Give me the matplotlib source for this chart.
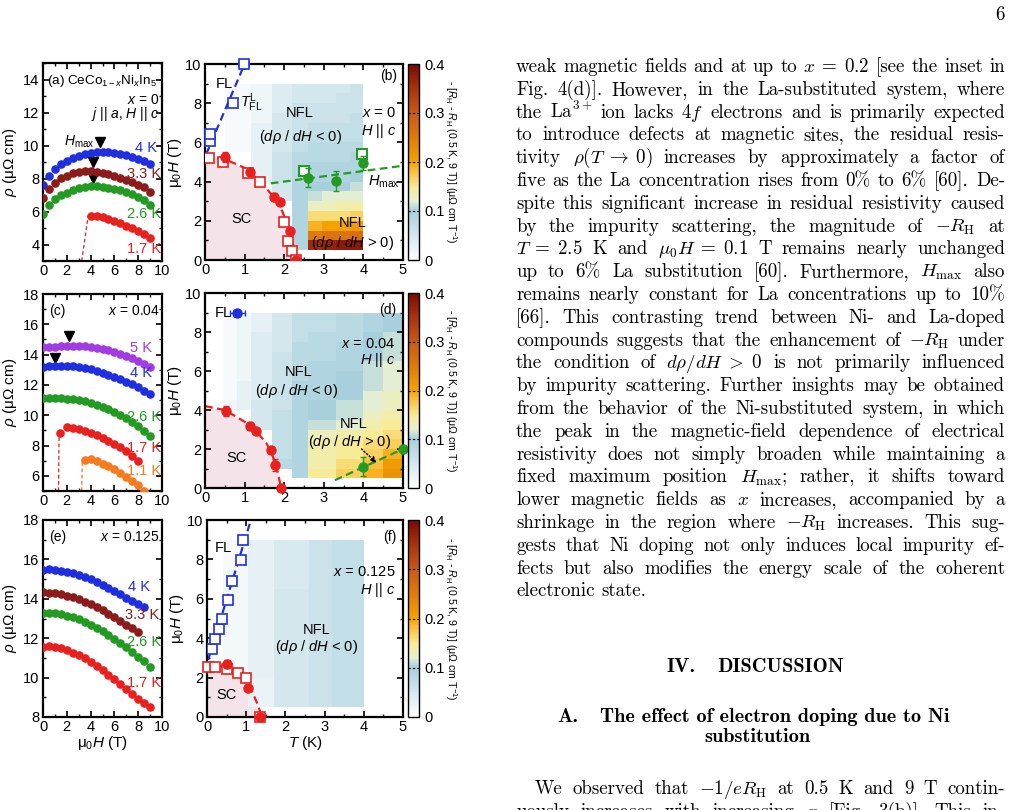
import numpy as np
import matplotlib.pyplot as plt
from matplotlib.colors import LinearSegmentedColormap
from matplotlib.ticker import MultipleLocator

plt.rcParams['font.family'] = ['Liberation Sans', 'DejaVu Sans']
plt.rcParams['mathtext.fontset'] = 'custom'
plt.rcParams['mathtext.rm'] = 'Liberation Sans'
plt.rcParams['mathtext.it'] = 'Liberation Sans:italic'
plt.rcParams['mathtext.bf'] = 'Liberation Sans:bold'
plt.rcParams['axes.linewidth'] = 1.6

# ---------------- resistivity vs field ----------------
field = [0, 0.5, 1, 1.5, 2, 2.5, 3, 3.5, 4, 4.5, 5, 5.5, 6, 6.5, 7, 7.5, 8, 8.5, 9]

# (a) x = 0
rho_a_4K = [7.62, 8.17, 8.56, 8.86, 9.06, 9.22, 9.36, 9.47, 9.53, 9.59, 9.6, 9.6, 9.57, 9.49, 9.41, 9.29, 9.17, 9.05, 8.88]
rho_a_33K = [6.84, 7.35, 7.75, 8.01, 8.17, 8.31, 8.39, 8.43, 8.43, 8.39, 8.31, 8.25, 8.15, 8.03, 7.91, 7.77, 7.62, 7.46, 7.2]
rho_a_26K = [5.85, 6.4, 6.75, 6.98, 7.15, 7.3, 7.42, 7.5, 7.55, 7.55, 7.5, 7.45, 7.38, 7.28, 7.18, 7.05, 6.9, 6.7, 6.4]
field_a_17K = [4, 4.5, 5, 5.5, 6, 6.5, 7, 7.5, 8, 8.5, 9]
rho_a_17K = [5.75, 5.75, 5.65, 5.55, 5.42, 5.3, 5.15, 5.0, 4.82, 4.62, 4.4]
hmax_a_x = [4.8, 4.2, 4.2]
hmax_a_y = [10.2, 9.0, 8.05]

# (c) x = 0.04
rho_c_5K = [14.47, 14.5, 14.53, 14.56, 14.58, 14.58, 14.57, 14.55, 14.5, 14.45, 14.37, 14.28, 14.18, 14.06, 13.93, 13.78, 13.6, 13.4, 13.17]
rho_c_4K = [13.17, 13.22, 13.25, 13.26, 13.25, 13.22, 13.17, 13.1, 13.02, 12.92, 12.8, 12.67, 12.53, 12.38, 12.22, 12.05, 11.85, 11.63, 11.41]
rho_c_26K = [11.12, 11.13, 11.13, 11.12, 11.1, 11.06, 11.0, 10.92, 10.82, 10.7, 10.56, 10.4, 10.22, 10.02, 9.8, 9.56, 9.3, 8.98, 8.64]
field_c_17K = [1.45, 2, 2.5, 3, 3.5, 4, 4.5, 5, 5.5, 6, 6.5, 7, 7.5, 8]
rho_c_17K = [8.82, 9.25, 9.17, 9.08, 8.97, 8.84, 8.69, 8.52, 8.33, 8.12, 7.89, 7.63, 7.32, 6.95]
field_c_11K = [3.5, 4, 4.5, 5, 5.5, 6, 6.5, 7, 7.5, 8, 8.5]
rho_c_11K = [7.06, 7.08, 6.95, 6.8, 6.62, 6.42, 6.2, 5.95, 5.68, 5.38, 5.03]
hmax_c_x = [2.2, 1.0]
hmax_c_y = [15.2, 13.8]

# (e) x = 0.125
field_e_4K = [0, 0.5, 1, 1.5, 2, 2.5, 3, 3.5, 4, 4.5, 5, 5.5, 6, 6.5, 7, 7.5, 8, 8.5]
rho_e_4K = [15.45, 15.5, 15.48, 15.43, 15.37, 15.3, 15.2, 15.1, 14.98, 14.85, 14.7, 14.55, 14.38, 14.22, 14.05, 13.88, 13.72, 13.6]
field_e_33K = [0, 0.5, 1, 1.5, 2, 2.5, 3, 3.5, 4, 4.5, 5, 5.5, 6, 6.5, 7, 7.5, 8]
rho_e_33K = [14.33, 14.3, 14.27, 14.22, 14.15, 14.07, 13.97, 13.85, 13.72, 13.58, 13.42, 13.25, 13.07, 12.88, 12.68, 12.5, 12.32]
rho_e_26K = [13.28, 13.3, 13.27, 13.22, 13.15, 13.06, 12.95, 12.82, 12.68, 12.52, 12.35, 12.15, 11.95, 11.75, 11.53, 11.3, 11.07, 10.82, 10.55]
rho_e_17K = [11.55, 11.6, 11.55, 11.48, 11.38, 11.27, 11.13, 10.97, 10.8, 10.6, 10.38, 10.15, 9.92, 9.67, 9.42, 9.17, 8.92, 8.7, 8.5]

# ---------------- phase diagrams ----------------
H_edges = [0.5, 1, 1.5, 2, 2.5, 3, 3.5, 4, 4.5, 5, 5.5, 6, 6.5, 7, 7.5, 8, 8.5, 9]
nan = np.nan

# (b) x = 0 ; rows listed from H = 9 (top) down to H = 0.5
T_edges_b = [0.5, 1.15, 1.7, 2.2, 2.6, 2.95, 3.3, 3.65, 4.0]
map_b = [
    [0.01, 0.02, 0.04, 0.05, 0.05, 0.05, 0.05, 0.06],
    [0.01, 0.02, 0.04, 0.05, 0.05, 0.05, 0.06, 0.06],
    [0.01, 0.02, 0.04, 0.06, 0.06, 0.06, 0.06, 0.06],
    [0.01, 0.02, 0.05, 0.06, 0.06, 0.06, 0.06, 0.07],
    [0.01, 0.03, 0.05, 0.06, 0.07, 0.07, 0.07, 0.07],
    [0.01, 0.03, 0.05, 0.07, 0.07, 0.07, 0.07, 0.07],
    [0.01, 0.03, 0.05, 0.07, 0.08, 0.08, 0.08, 0.08],
    [nan, 0.03, 0.06, 0.08, 0.08, 0.08, 0.08, 0.09],
    [nan, 0.03, 0.06, 0.08, 0.09, 0.09, 0.09, 0.09],
    [nan, 0.03, 0.06, 0.08, 0.09, 0.09, 0.09, 0.10],
    [nan, nan, 0.05, 0.09, 0.10, 0.10, 0.10, 0.11],
    [nan, nan, 0.05, 0.09, 0.11, 0.12, 0.12, 0.12],
    [nan, nan, nan, 0.09, 0.13, 0.13, 0.14, 0.14],
    [nan, nan, nan, 0.09, 0.16, 0.16, 0.16, 0.17],
    [nan, nan, nan, 0.09, 0.19, 0.20, 0.20, 0.21],
    [nan, nan, nan, 0.09, 0.25, 0.26, 0.26, 0.27],
    [nan, nan, nan, 0.09, 0.36, 0.37, 0.38, 0.38],
]
sc_T_b = [0, 0.5, 1.0, 1.4, 1.7, 1.95, 2.1, 2.2, 2.27, 2.3]
sc_H_b = [5.3, 5.15, 4.7, 4.0, 3.3, 2.5, 1.7, 1.0, 0.4, 0]
hc_fill_T_b = [0.5, 1.14, 1.75, 1.89, 2.15, 2.3]
hc_fill_H_b = [5.27, 4.5, 3.23, 2.98, 1.48, 0]
hc_fill_err_b = [0.25, 0.12, 0.2, 0.12, 0.15, 0]
hc_open_T_b = [0.11, 0.46, 1.09, 1.39, 2.0, 2.1, 2.2, 2.3]
hc_open_H_b = [5.19, 5.02, 4.46, 3.96, 1.96, 0.97, 0.46, 0]
tfl_T_b = [0.13, 0.13, 0.71, 0.98]
tfl_H_b = [6.05, 6.45, 8.0, 10.0]
tfl_line_T_b = [0.03, 1.0]
tfl_line_H_b = [5.4, 10.0]
hmax_T_b = [2.61, 3.31, 4.0]
hmax_H_b = [4.2, 4.03, 4.96]
hmax_err_b = [0.5, 0.5, 0.35]
hmax_open_T_b = [2.5, 3.96]
hmax_open_H_b = [4.56, 5.39]
hmax_line_T_b = [1.66, 5.0]
hmax_line_H_b = [3.91, 4.81]

# (d) x = 0.04
T_edges_d = [0.45, 0.8, 1.15, 1.7, 2.2, 2.6, 3.3, 4.0, 4.5, 5.0]
map_d = [
    [0.01, 0.02, 0.03, 0.05, 0.07, 0.07, 0.08, 0.09, 0.10],
    [0.01, 0.02, 0.03, 0.05, 0.07, 0.07, 0.08, 0.09, 0.10],
    [0.01, 0.02, 0.04, 0.05, 0.07, 0.08, 0.08, 0.10, 0.11],
    [0.01, 0.02, 0.04, 0.05, 0.08, 0.08, 0.09, 0.10, 0.11],
    [0.01, 0.02, 0.04, 0.06, 0.08, 0.08, 0.09, 0.10, 0.11],
    [0.01, 0.02, 0.04, 0.06, 0.08, 0.09, 0.09, 0.11, 0.12],
    [0.01, 0.02, 0.04, 0.06, 0.08, 0.09, 0.10, 0.11, 0.12],
    [0.01, 0.03, 0.04, 0.06, 0.09, 0.09, 0.10, 0.11, 0.12],
    [0.01, 0.03, 0.04, 0.06, 0.09, 0.09, 0.10, 0.12, 0.13],
    [0.02, 0.03, 0.05, 0.06, 0.09, 0.10, 0.11, 0.12, 0.13],
    [nan, nan, 0.05, 0.07, 0.09, 0.10, 0.11, 0.13, 0.14],
    [nan, nan, 0.05, 0.07, 0.09, 0.11, 0.12, 0.14, 0.15],
    [nan, nan, nan, 0.07, 0.09, 0.13, 0.14, 0.15, 0.16],
    [nan, nan, nan, 0.07, 0.09, 0.14, 0.15, 0.16, 0.17],
    [nan, nan, nan, 0.07, 0.09, 0.14, 0.15, 0.17, 0.19],
    [nan, nan, nan, 0.08, 0.09, 0.14, 0.16, 0.18, 0.21],
    [nan, nan, nan, nan, 0.09, 0.15, 0.17, 0.19, 0.22],
]
sc_T_d = [0, 0.5, 1.0, 1.3, 1.55, 1.7, 1.8, 1.87, 1.92]
sc_H_d = [4.2, 4.0, 3.4, 2.9, 2.3, 1.7, 1.1, 0.5, 0]
hc_T_d = [0.53, 1.14, 1.29, 1.66, 1.77, 1.92]
hc_H_d = [3.96, 3.2, 2.94, 1.95, 1.18, 0]
hc_err_d = [0.25, 0.2, 0.12, 0.12, 0.3, 0]
fl_T_d = [0.82]
fl_H_d = [9.0]
hmax_T_d = [4.0, 5.0]
hmax_H_d = [1.1, 2.0]
hmax_err_d = [0.5, 0]
hmax_line_T_d = [3.28, 5.0]
hmax_line_H_d = [0.4, 2.0]

# (f) x = 0.125
T_edges_f = [0.42, 1.05, 1.7, 2.6, 3.2, 4.0]
map_f = [
    [0.010, 0.03, 0.045, 0.06, 0.07],
    [0.010, 0.03, 0.045, 0.06, 0.07],
    [0.010, 0.03, 0.045, 0.06, 0.07],
    [0.015, 0.03, 0.045, 0.06, 0.07],
    [0.015, 0.03, 0.045, 0.06, 0.07],
    [0.015, 0.03, 0.050, 0.06, 0.07],
    [0.015, 0.03, 0.050, 0.06, 0.07],
    [0.015, 0.03, 0.050, 0.06, 0.07],
    [0.015, 0.03, 0.050, 0.06, 0.07],
    [0.015, 0.03, 0.050, 0.06, 0.07],
    [0.015, 0.03, 0.050, 0.06, 0.07],
    [0.015, 0.03, 0.050, 0.06, 0.07],
    [0.015, 0.03, 0.050, 0.06, 0.07],
    [nan, 0.03, 0.050, 0.06, 0.07],
    [nan, 0.025, 0.050, 0.06, 0.07],
    [nan, 0.025, 0.050, 0.06, 0.07],
    [nan, 0.025, 0.050, 0.06, 0.07],
]
sc_T_f = [0, 0.3, 0.5, 0.8, 1.0, 1.15, 1.3, 1.4]
sc_H_f = [2.65, 2.6, 2.5, 2.2, 1.8, 1.3, 0.6, 0]
hc_fill_T_f = [0.5, 1.05, 1.35]
hc_fill_H_f = [2.7, 1.46, 0]
hc_fill_err_f = [0.2, 0.1, 0]
hc_open_T_f = [0.03, 0.2, 0.5, 0.8, 0.99, 1.35]
hc_open_H_f = [2.55, 2.55, 2.44, 2.25, 1.96, 0]
hc_open_xerr_f = [0.05, 0.08, 0, 0, 0, 0.08]
tfl_T_f = [0.12, 0.2, 0.31, 0.39, 0.54, 0.65, 0.87, 0.93]
tfl_H_f = [3.45, 3.96, 4.47, 4.97, 5.95, 6.92, 7.97, 8.98]
tfl_line_T_f = [0.03, 1.12]
tfl_line_H_f = [2.9, 10.0]

# ---------------- styling ----------------
BLUE = '#1f2fe0'
MAROON = '#8c1c1c'
GREEN = '#239b23'
RED = '#e8201e'
PURPLE = '#a23be0'
ORANGE = '#f57a20'
PINK = '#f4e3e8'
cmap = LinearSegmentedColormap.from_list('rh', [
    (0.0, '#ffffff'), (0.25, '#a7cfdc'), (0.3, '#e6efd4'), (0.37, '#f8ec9a'),
    (0.45, '#fbc040'), (0.5, '#f5a300'), (0.62, '#e07d0a'), (0.75, '#c85a16'),
    (0.88, '#a8320c'), (1.0, '#7a0a02')])

W, HP = 1013, 810
fig = plt.figure(figsize=(W / 100, HP / 100), dpi=100)


def box(l, t, r, b):
    return [l / W, 1 - b / HP, (r - l) / W, (b - t) / HP]


def style(ax, xmaj, xmin, ymaj, ymin):
    ax.xaxis.set_major_locator(MultipleLocator(xmaj))
    ax.xaxis.set_minor_locator(MultipleLocator(xmin))
    ax.yaxis.set_major_locator(MultipleLocator(ymaj))
    ax.yaxis.set_minor_locator(MultipleLocator(ymin))
    ax.tick_params(which='both', direction='in', top=True, right=True,
                   labelsize=10.5, pad=2.5)
    ax.tick_params(which='major', length=4.5, width=1.2)
    ax.tick_params(which='minor', length=2.5, width=1.0)


def dots(ax, x, y, c):
    ax.plot(x, y, 'o', ms=6.2, color=c, mec='none', zorder=3)


def rho_axes(pos, ylim):
    ax = fig.add_axes(box(*pos))
    ax.set_xlim(0, 10)
    ax.set_ylim(*ylim)
    style(ax, 2, 1, 2, 1)
    ax.set_ylabel(r'$\rho$ (μΩ cm)', fontsize=11, labelpad=3)
    return ax


def phase_axes(pos, cpos, T_edges, vals):
    ax = fig.add_axes(box(*pos))
    ax.set_xlim(0, 5)
    ax.set_ylim(0, 10)
    style(ax, 1, 0.5, 2, 1)
    ax.set_ylabel(r'$\mathrm{\mu}_0H$ (T)', fontsize=11, labelpad=1)
    z = np.ma.masked_invalid(np.array(vals)[::-1])
    mesh = ax.pcolormesh(T_edges, H_edges, z, cmap=cmap, vmin=0, vmax=0.4,
                         zorder=1, edgecolors='none')
    cax = fig.add_axes(box(*cpos))
    cb = fig.colorbar(mesh, cax=cax, ticks=[0, 0.1, 0.2, 0.3, 0.4])
    cb.ax.set_yticklabels(['0', '0.1', '0.2', '0.3', '0.4'])
    cb.ax.tick_params(length=0, labelsize=10.5, pad=4)
    cb.outline.set_linewidth(1.0)
    for v in [0.1, 0.2, 0.3]:
        cax.axhline(v, color='k', ls=(0, (2, 2)), lw=0.8)
    l, t, r, b = cpos
    fig.text(451 / W, 1 - (t + b) / 2 / HP,
             r'- [$R_{\rm H}$ - $R_{\rm H}$ (0.5 K, 9 T)] (μΩ cm T$^{-1}$)',
             rotation=270, ha='center', va='center', fontsize=7.6)
    return ax


def sc_region(ax, T, H):
    ax.fill_between(T, 0, H, color=PINK, lw=0, zorder=0)
    ax.plot(T, H, ls=(0, (3.5, 2)), color=RED, lw=1.6, zorder=2)


TXT = dict(fontsize=10.5, zorder=6)
SM = dict(fontsize=10, zorder=6)

# ---- (a)
ax = rho_axes((43, 63, 162, 261), (3, 15))
ax.plot([3.25, 3.8], [3.0, 5.75], ls=(0, (3, 2)), color=RED, lw=0.9)
dots(ax, field, rho_a_4K, BLUE)
dots(ax, field, rho_a_33K, MAROON)
dots(ax, field, rho_a_26K, GREEN)
dots(ax, field_a_17K, rho_a_17K, RED)
ax.plot(hmax_a_x, hmax_a_y, 'v', color='k', ms=7)
ax.text(4.35, 10.2, r'$H_{\rm max}$', ha='right', va='center', **SM)
ax.text(0.035, 0.91, r'(a) CeCo$_{1-x}$Ni$_x$In$_5$', transform=ax.transAxes,
        ha='left', va='center', fontsize=9.7, zorder=6)
ax.text(0.98, 0.815, r'$x$ = 0', transform=ax.transAxes, ha='right', va='center', **SM)
ax.text(0.98, 0.74, r'$j$ || $a$, $H$ || $c$', transform=ax.transAxes,
        ha='right', va='center', **SM)
ax.text(9.55, 9.87, '4 K', color=BLUE, ha='right', va='center', **TXT)
ax.text(9.9, 8.27, '3.3 K', color=MAROON, ha='right', va='center', **TXT)
ax.text(9.9, 5.85, '2.6 K', color=GREEN, ha='right', va='center', **TXT)
ax.text(9.9, 3.71, '1.7 K', color=RED, ha='right', va='center', **TXT)

# ---- (c)
ax = rho_axes((43, 294, 162, 491), (5, 18))
ax.plot([1.3, 1.35], [5.0, 8.6], ls=(0, (3, 2)), color=RED, lw=0.9)
ax.plot([3.25, 3.3], [5.0, 6.9], ls=(0, (3, 2)), color=ORANGE, lw=0.9)
dots(ax, field, rho_c_5K, PURPLE)
dots(ax, field, rho_c_4K, BLUE)
dots(ax, field, rho_c_26K, GREEN)
dots(ax, field_c_17K, rho_c_17K, RED)
dots(ax, field_c_11K, rho_c_11K, ORANGE)
ax.plot(hmax_c_x, hmax_c_y, 'v', color='k', ms=7)
ax.text(0.05, 0.915, '(c)', transform=ax.transAxes, ha='left', va='center', **SM)
ax.text(0.98, 0.915, r'$x$ = 0.04', transform=ax.transAxes, ha='right', va='center', **SM)
ax.text(9.13, 14.42, '5 K', color=PURPLE, ha='right', va='center', **TXT)
ax.text(9.13, 12.77, '4 K', color=BLUE, ha='right', va='center', **TXT)
ax.text(9.9, 9.91, '2.6 K', color=GREEN, ha='right', va='center', **TXT)
ax.text(9.9, 7.83, '1.7 K', color=RED, ha='right', va='center', **TXT)
ax.text(9.9, 6.29, '1.1 K', color=ORANGE, ha='right', va='center', **TXT)

# ---- (e)
ax = rho_axes((43, 520, 162, 717), (8, 18))
dots(ax, field_e_4K, rho_e_4K, BLUE)
dots(ax, field_e_33K, rho_e_33K, MAROON)
dots(ax, field, rho_e_26K, GREEN)
dots(ax, field, rho_e_17K, RED)
ax.text(0.05, 0.915, '(e)', transform=ax.transAxes, ha='left', va='center', **SM)
ax.text(0.98, 0.915, r'$x$ = 0.125', transform=ax.transAxes, ha='right', va='center', **SM)
ax.text(9.0, 14.6, '4 K', color=BLUE, ha='right', va='center', **TXT)
ax.text(9.8, 13.2, '3.3 K', color=MAROON, ha='right', va='center', **TXT)
ax.text(9.9, 11.8, '2.6 K', color=GREEN, ha='right', va='center', **TXT)
ax.text(9.9, 9.74, '1.7 K', color=RED, ha='right', va='center', **TXT)
ax.set_xlabel(r'$\mathrm{\mu}_0H$ (T)', fontsize=11, labelpad=0)

# ---- (b)
ax = phase_axes((205, 64, 403, 260), (408, 64, 419, 260), T_edges_b, map_b)
sc_region(ax, sc_T_b, sc_H_b)
ax.plot(tfl_line_T_b, tfl_line_H_b, ls=(0, (3.5, 2)), color=BLUE, lw=1.6, zorder=2)
ax.plot(hmax_line_T_b, hmax_line_H_b, ls=(0, (3.5, 2)), color=GREEN, lw=1.6, zorder=2)
ax.plot(hc_open_T_b, hc_open_H_b, 's', ms=7, mfc='white', mec=RED, mew=1.2, zorder=4)
ax.errorbar(hc_fill_T_b, hc_fill_H_b, yerr=hc_fill_err_b, fmt='o', ms=6.5, color=RED,
            capsize=2.5, elinewidth=1, zorder=5)
ax.plot(tfl_T_b, tfl_H_b, 's', ms=7, mfc='white', mec=BLUE, mew=1.2, zorder=4,
        clip_on=False)
ax.plot(hmax_open_T_b, hmax_open_H_b, 's', ms=7, mfc='white', mec=GREEN, mew=1.5, zorder=4)
ax.errorbar(hmax_T_b, hmax_H_b, yerr=hmax_err_b, fmt='o', ms=6.5, color=GREEN,
            capsize=2.5, elinewidth=1, zorder=5)
ax.text(0.5, 9.0, 'FL', ha='center', va='center', **TXT)
ax.text(1.18, 8.0, r'$T^{\rm L}_{\rm FL}$', ha='center', va='center', **TXT)
ax.text(2.4, 7.5, 'NFL', ha='center', va='center', **TXT)
ax.text(2.4, 6.3, r'($d\rho$ / $dH$ < 0)', ha='center', va='center', **TXT)
ax.text(4.84, 9.4, '(b)', ha='right', va='center', **SM)
ax.text(4.83, 7.5, r'$x$ = 0', ha='right', va='center', **TXT)
ax.text(4.83, 6.6, r'$H$ || $c$', ha='right', va='center', **TXT)
ax.text(4.52, 4.0, r'$H_{\rm max}$', ha='center', va='center', **TXT)
ax.text(0.93, 2.1, 'SC', ha='center', va='center', **TXT)
ax.text(3.73, 1.87, 'NFL', ha='center', va='center', **TXT)
ax.text(3.73, 0.88, r'($d\rho$ / $dH$ > 0)', ha='center', va='center', **TXT)

# ---- (d)
ax = phase_axes((205, 293, 403, 488), (408, 293, 419, 488), T_edges_d, map_d)
sc_region(ax, sc_T_d, sc_H_d)
ax.plot(hmax_line_T_d, hmax_line_H_d, ls=(0, (3.5, 2)), color=GREEN, lw=1.6, zorder=2)
ax.errorbar(hc_T_d, hc_H_d, yerr=hc_err_d, fmt='o', ms=6.5, color=RED,
            capsize=2.5, elinewidth=1, zorder=5, clip_on=False)
ax.errorbar(fl_T_d, fl_H_d, xerr=0.2, fmt='o', ms=6.5, color=BLUE,
            capsize=2.5, elinewidth=1, zorder=5)
ax.errorbar(hmax_T_d, hmax_H_d, yerr=hmax_err_d, fmt='o', ms=6.5, color=GREEN,
            capsize=2.5, elinewidth=1, zorder=5, clip_on=False)
ax.annotate('', xy=(4.38, 1.2), xytext=(3.9, 2.1),
            arrowprops=dict(arrowstyle='-|>', ls=(0, (1, 1.5)), color='k', lw=1,
                            mutation_scale=8), zorder=6)
ax.text(0.46, 9.0, 'FL', ha='center', va='center', **TXT)
ax.text(4.84, 9.15, '(d)', ha='right', va='center', **SM)
ax.text(4.81, 7.38, r'$x$ = 0.04', ha='right', va='center', **TXT)
ax.text(4.81, 6.56, r'$H$ || $c$', ha='right', va='center', **TXT)
ax.text(2.36, 5.95, 'NFL', ha='center', va='center', **TXT)
ax.text(2.31, 5.0, r'($d\rho$ / $dH$ < 0)', ha='center', va='center', **TXT)
ax.text(3.75, 3.28, 'NFL', ha='center', va='center', **TXT)
ax.text(3.66, 2.37, r'($d\rho$ / $dH$ > 0)', ha='center', va='center', **TXT)
ax.text(0.8, 1.52, 'SC', ha='center', va='center', **TXT)

# ---- (f)
ax = phase_axes((207, 520, 403, 717), (408, 520, 419, 717), T_edges_f, map_f)
sc_region(ax, sc_T_f, sc_H_f)
ax.plot(tfl_line_T_f, tfl_line_H_f, ls=(0, (3.5, 2)), color=BLUE, lw=1.6, zorder=2)
ax.plot(tfl_T_f, tfl_H_f, 's', ms=7, mfc='white', mec=BLUE, mew=1.2, zorder=4)
ax.errorbar(hc_open_T_f, hc_open_H_f, xerr=hc_open_xerr_f, fmt='s', ms=7, mfc='white',
            mec=RED, mew=1.2, ecolor=RED, capsize=2, elinewidth=1, zorder=4, clip_on=False)
ax.errorbar(hc_fill_T_f, hc_fill_H_f, yerr=hc_fill_err_f, fmt='o', ms=6.5, color=RED,
            capsize=2.5, elinewidth=1, zorder=5, clip_on=False)
ax.text(0.42, 8.56, 'FL', ha='center', va='center', **TXT)
ax.text(4.84, 9.15, '(f)', ha='right', va='center', **SM)
ax.text(4.8, 7.38, r'$x$ = 0.125', ha='right', va='center', **TXT)
ax.text(4.8, 6.45, r'$H$ || $c$', ha='right', va='center', **TXT)
ax.text(2.8, 4.42, 'NFL', ha='center', va='center', **TXT)
ax.text(2.8, 3.57, r'($d\rho$ / $dH$ < 0)', ha='center', va='center', **TXT)
ax.text(0.5, 1.12, 'SC', ha='center', va='center', **TXT)
ax.set_xlabel(r'$T$ (K)', fontsize=11, labelpad=0)

# ---------------- page text ----------------
body_lines = [
    r'weak magnetic fields and at up to $x\;=\;0.2$ [see the inset in',
    r'Fig. 4(d)]. However, in the La-substituted system, where',
    r'the La$^{3+}$ ion lacks $4f$ electrons and is primarily expected',
    r'to introduce defects at magnetic sites, the residual resis-',
    r'tivity $\rho(T\;\rightarrow\;0)$ increases by approximately a factor of',
    r'five as the La concentration rises from 0% to 6% [60]. De-',
    r'spite this significant increase in residual resistivity caused',
    r'by the impurity scattering, the magnitude of $-R_{\rm H}$ at',
    r'$T\;=\;2.5$ K and $\mu_0H\;=\;0.1$ T remains nearly unchanged',
    r'up to 6% La substitution [60]. Furthermore, $H_{\rm max}$ also',
    r'remains nearly constant for La concentrations up to 10%',
    r'[66]. This contrasting trend between Ni- and La-doped',
    r'compounds suggests that the enhancement of $-R_{\rm H}$ under',
    r'the condition of $d\rho/dH\;>\;0$ is not primarily influenced',
    r'by impurity scattering. Further insights may be obtained',
    r'from the behavior of the Ni-substituted system, in which',
    r'the peak in the magnetic-field dependence of electrical',
    r'resistivity does not simply broaden while maintaining a',
    r'fixed maximum position $H_{\rm max}$; rather, it shifts toward',
    r'lower magnetic fields as $x$ increases, accompanied by a',
    r'shrinkage in the region where $-R_{\rm H}$ increases. This sug-',
    r'gests that Ni doping not only induces local impurity ef-',
    r'fects but also modifies the energy scale of the coherent',
    r'electronic state.',
]
tail_lines = [
    r'We observed that $-1/eR_{\rm H}$ at 0.5 K and 9 T contin-',
    r'uously increases with increasing $x$ [Fig. 3(b)]. This in-',
]

renderer = fig.canvas.get_renderer()
BODY = dict(family='cmr10', math_fontfamily='cm', fontsize=13.6)


def split_words(s):
    words, cur, inmath = [], '', False
    for ch in s:
        if ch == '$':
            inmath = not inmath
        if ch == ' ' and not inmath:
            if cur:
                words.append(cur)
            cur = ''
        else:
            cur += ch
    if cur:
        words.append(cur)
    return words


def width_px(s, **kw):
    t = fig.text(0, 0, s, **kw)
    w = t.get_window_extent(renderer).width
    t.remove()
    return w


def put_line(s, x0, x1, base, justify=True, **kw):
    words = split_words(s)
    ws = [width_px(w, **kw) for w in words]
    if justify and len(words) > 1:
        gap = (x1 - x0 - sum(ws)) / (len(words) - 1)
    else:
        gap = 0.34 * kw['fontsize'] * 100 / 72
    x = x0
    for w, wd in zip(words, ws):
        fig.text(x / W, 1 - base / HP, w, ha='left', va='baseline', **kw)
        x += wd + gap


X0, X1 = 516, 1005
for i, line in enumerate(body_lines):
    put_line(line, X0, X1, 72 + 22.8 * i, justify=(i < len(body_lines) - 1), **BODY)
put_line(tail_lines[0], 535, X1, 794, **BODY)
put_line(tail_lines[1], X0, X1, 817, **BODY)

HEAD = dict(family='cmb10', math_fontfamily='cm', fontsize=14.6)
fig.text(666 / W, 1 - 672 / HP, 'IV.', ha='left', va='baseline', **HEAD)
fig.text(717 / W, 1 - 672 / HP, 'DISCUSSION', ha='left', va='baseline', **HEAD)
fig.text(557 / W, 1 - 722 / HP, 'A.', ha='left', va='baseline', **HEAD)
fig.text(600 / W, 1 - 722 / HP, 'The effect of electron doping due to Ni',
         ha='left', va='baseline', **HEAD)
fig.text(757 / W, 1 - 742 / HP, 'substitution', ha='center', va='baseline', **HEAD)
fig.text(1005 / W, 1 - 20 / HP, '6', ha='right', va='baseline', **BODY)

fig.savefig('out.png', dpi=100)
